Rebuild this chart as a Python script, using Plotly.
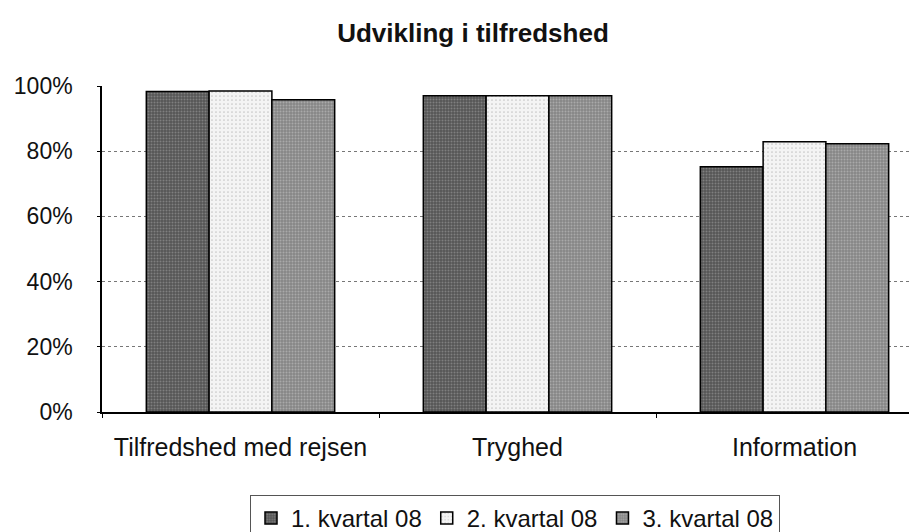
import plotly.graph_objects as go

categories = ["Tilfredshed med rejsen", "Tryghed", "Information"]
series_names = ["1. kvartal 08", "2. kvartal 08", "3. kvartal 08"]
q1_values = [98.3, 97.0, 75.2]
q2_values = [98.5, 97.0, 82.9]
q3_values = [95.8, 97.0, 82.3]
y_tick_values = [0, 20, 40, 60, 80, 100]
y_tick_labels = ["0%", "20%", "40%", "60%", "80%", "100%"]

series_values = [q1_values, q2_values, q3_values]
styles = [
    dict(color="#606060", pattern=dict(shape=".", bgcolor="#555555", fgcolor="#aaaaaa", size=3, solidity=0.35)),
    dict(color="#ececec", pattern=dict(shape=".", bgcolor="#f4f4f4", fgcolor="#9a9a9a", size=4, solidity=0.15)),
    dict(color="#939393", pattern=dict(shape=".", bgcolor="#868686", fgcolor="#cccccc", size=3, solidity=0.35)),
]

fig = go.Figure()
for name, vals, st in zip(series_names, series_values, styles):
    fig.add_trace(go.Bar(
        x=categories, y=vals, name=name,
        marker=dict(color=st["color"], pattern=st["pattern"],
                    line=dict(color="#000000", width=1.5)),
    ))

FONT = "Liberation Sans, Arial, sans-serif"
fig.update_layout(
    width=917, height=532,
    margin=dict(l=94, r=0, t=78, b=128),
    paper_bgcolor="white", plot_bgcolor="white",
    barmode="group", bargap=0.32, bargroupgap=0,
    font=dict(family=FONT, size=25, color="#111111"),
    title=dict(text="<b>Udvikling i tilfredshed</b>", x=465/917, xref="container", xanchor="center",
               y=1 - 25/532, yref="container", yanchor="middle",
               font=dict(family=FONT, size=26, color="#111111")),
    showlegend=True,
    legend=dict(orientation="h", xref="container", x=507/917, xanchor="center",
                yref="container", y=1 - 487/532, yanchor="top",
                bordercolor="#555555", borderwidth=1, bgcolor="white",
                font=dict(family=FONT, size=24), itemwidth=30,
                traceorder="normal"),
    xaxis=dict(range=[-0.5, -0.5 + 823/277], showline=True, linecolor="#000000", linewidth=1.5,
               ticks="outside", ticklen=4, tickcolor="#000000", tickson="boundaries",
               ticklabelstandoff=12, showgrid=False, tickfont=dict(size=25)),
    yaxis=dict(range=[0, 100], tickvals=y_tick_values, ticktext=y_tick_labels,
               showline=True, linecolor="#000000", linewidth=1.5,
               ticks="outside", ticklen=3, tickcolor="#000000",
               showgrid=True, gridcolor="#777777", griddash="dot", gridwidth=1,
               ticklabelstandoff=20, tickfont=dict(size=23), zeroline=False),
)

fig.write_html("out.html")
